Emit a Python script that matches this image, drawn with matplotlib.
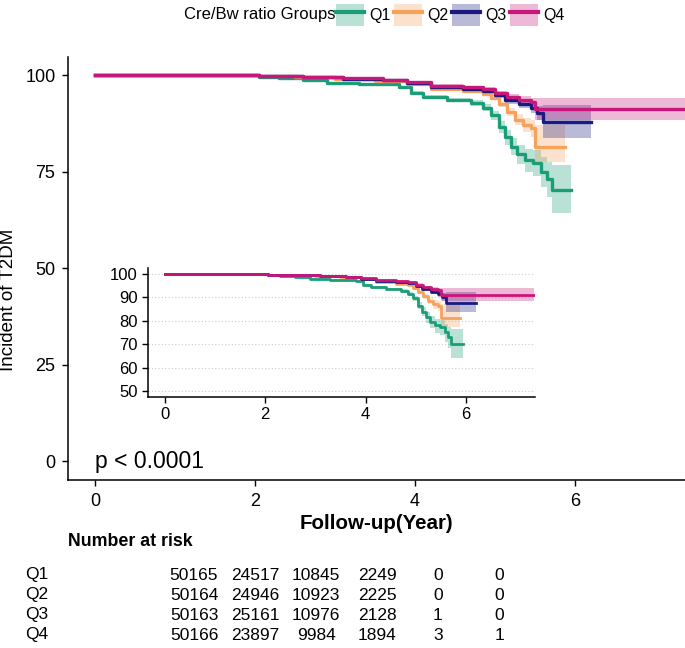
import matplotlib.pyplot as plt
from matplotlib.patches import Patch
from matplotlib.lines import Line2D

plt.rcParams['font.family'] = ['Liberation Sans', 'DejaVu Sans']

# ---------------------------------------------------------
# DATOS
# ---------------------------------------------------------
groups = ["Q1", "Q2", "Q3", "Q4"]
colors = ["#1B9E77", "#F5A25D", "#1A1A80", "#C8177A"]

q1_time = [0, 2.05, 2.3, 2.6, 2.9, 3.3, 3.8, 3.95, 4.1, 4.4, 4.7, 4.85, 4.95, 5.05,
           5.12, 5.2, 5.28, 5.38, 5.48, 5.58, 5.65, 5.71, 5.95]
q1_surv = [100, 99.6, 99.2, 98.8, 98.0, 97.6, 97.0, 95.5, 94.3, 93.6, 92.8, 91.5, 89.6, 86.5,
           83.9, 81.5, 79.6, 78.0, 77.2, 75.0, 73.0, 70.2, 70.2]
q1_low = [100, 99.5, 99.1, 98.7, 97.8, 97.4, 96.7, 95.1, 93.8, 93.0, 92.1, 90.6, 88.4, 85.0,
          82.0, 79.2, 77.0, 75.0, 73.8, 71.0, 68.5, 64.2, 64.2]
q1_up = [100, 99.7, 99.3, 98.9, 98.2, 97.8, 97.3, 95.9, 94.8, 94.2, 93.5, 92.4, 90.8, 88.0,
         85.7, 83.7, 82.0, 80.8, 80.5, 78.8, 77.5, 76.7, 76.7]

q2_time = [0, 2.05, 2.5, 3.0, 3.5, 3.9, 4.2, 4.6, 4.85, 4.95, 5.05, 5.15, 5.25, 5.35, 5.45,
           5.5, 5.88]
q2_surv = [100, 99.7, 99.4, 99.0, 98.6, 97.8, 96.5, 95.8, 95.2, 94.2, 92.5, 90.5, 88.5, 87.0,
           86.2, 81.4, 81.4]
q2_low = [100, 99.6, 99.3, 98.9, 98.4, 97.6, 96.2, 95.4, 94.7, 93.6, 91.7, 89.4, 87.0, 85.2,
          84.0, 77.5, 77.5]
q2_up = [100, 99.8, 99.5, 99.2, 98.8, 98.1, 96.9, 96.3, 95.7, 94.8, 93.3, 91.6, 90.0, 88.8,
         88.4, 87.0, 87.0]

q3_time = [0, 2.05, 2.6, 3.1, 3.6, 3.9, 4.2, 4.6, 4.85, 5.0, 5.12, 5.3, 5.45, 5.52, 5.6, 6.2]
q3_surv = [100, 99.8, 99.5, 99.1, 98.7, 98.0, 97.0, 96.5, 96.0, 94.8, 93.5, 92.5, 91.5, 90.3,
           87.8, 87.8]
q3_low = [100, 99.7, 99.4, 99.0, 98.5, 97.8, 96.7, 96.1, 95.5, 94.1, 92.6, 91.4, 90.1, 88.5,
          83.7, 83.7]
q3_up = [100, 99.9, 99.6, 99.3, 98.9, 98.3, 97.4, 97.0, 96.5, 95.5, 94.4, 93.6, 92.9, 92.1,
         92.2, 92.2]

q4_time = [0, 2.05, 2.6, 3.1, 3.6, 3.9, 4.2, 4.6, 4.85, 5.0, 5.15, 5.3, 5.45, 5.5, 7.37]
q4_surv = [100, 99.8, 99.5, 99.2, 98.8, 98.2, 97.3, 96.9, 96.4, 95.4, 94.3, 93.6, 93.0, 91.2,
           91.2]
q4_low = [100, 99.7, 99.4, 99.0, 98.6, 98.0, 97.0, 96.5, 95.9, 94.8, 93.5, 92.7, 91.9, 88.5,
          88.5]
q4_up = [100, 99.9, 99.6, 99.4, 99.0, 98.5, 97.6, 97.3, 96.9, 96.0, 95.1, 94.5, 94.1, 94.0,
         94.0]

times = [q1_time, q2_time, q3_time, q4_time]
survs = [q1_surv, q2_surv, q3_surv, q4_surv]
lows = [q1_low, q2_low, q3_low, q4_low]
ups = [q1_up, q2_up, q3_up, q4_up]

# Numero en riesgo
risk_q1 = [50165, 24517, 10845, 2249, 0, 0]
risk_q2 = [50164, 24946, 10923, 2225, 0, 0]
risk_q3 = [50163, 25161, 10976, 2128, 1, 0]
risk_q4 = [50166, 23897, 9984, 1894, 3, 1]
risk_rows = [risk_q1, risk_q2, risk_q3, risk_q4]

p_text = "p < 0.0001"

# ---------------------------------------------------------
# FUNCION PARA DIBUJAR CURVAS
# ---------------------------------------------------------
def dibujar_curvas(ax, lw):
    for t, s, lo, hi, c in zip(times, survs, lows, ups, colors):
        ax.fill_between(t, lo, hi, step="post", color=c, alpha=0.3, linewidth=0)
        ax.step(t, s, where="post", color=c, linewidth=lw)
    for sp in ["top", "right"]:
        ax.spines[sp].set_visible(False)
    for sp in ["left", "bottom"]:
        ax.spines[sp].set_linewidth(1.1)
    ax.tick_params(length=4, width=1.0, colors="black")


# ---------------------------------------------------------
# FIGURA
# ---------------------------------------------------------
W, H = 685, 648
fig = plt.figure(figsize=(W / 100, H / 100), dpi=100)

ax = fig.add_axes([68 / W, 1 - 480 / H, (W - 68) / W, (480 - 57) / H])
dibujar_curvas(ax, 2.4)
ax.set_xlim(-0.34, 7.375)
ax.set_ylim(-4.9, 104.7)
ax.set_xticks([0, 2, 4, 6])
ax.set_yticks([0, 25, 50, 75, 100])
ax.tick_params(labelsize=13, pad=5)
ax.set_xlabel("Follow-up(Year)", fontsize=14.8, fontweight="bold", labelpad=3)
ax.set_ylabel("Incident of T2DM", fontsize=13.5)
ax.yaxis.set_label_coords(-51 / (W - 68), (480 - 300) / (480 - 57))
ax.text(0, 0, p_text, fontsize=16.5, ha="left", va="center")

# --- Inset ---
axi = fig.add_axes([148 / W, 1 - 397 / H, (535 - 148) / W, (397 - 268) / H])
for y in [50, 60, 70, 80, 90, 100]:
    axi.axhline(y, color="#cccccc", linestyle=(0, (1, 2)), linewidth=0.8, zorder=0)
dibujar_curvas(axi, 2.0)
axi.set_xlim(-0.34, 7.38)
axi.set_ylim(47.4, 102.6)
axi.set_xticks([0, 2, 4, 6])
axi.set_yticks([50, 60, 70, 80, 90, 100])
axi.tick_params(labelsize=12)

# --- Leyenda ---
handles = [(Patch(facecolor=c, alpha=0.3, edgecolor="none"),
            Line2D([], [], color=c, linewidth=3)) for c in colors]
fig.text(335 / W, 1 - 15 / H, "Cre/Bw ratio Groups", fontsize=12,
         ha="right", va="center")
fig.legend(handles, groups, loc="center left", bbox_to_anchor=(336 / W, 1 - 15 / H),
           ncol=4, frameon=False, fontsize=11.5, borderpad=0, borderaxespad=0,
           handlelength=1.75, handleheight=1.7, handletextpad=0.35,
           columnspacing=0.2)

# --- Tabla de riesgo ---
tab = fig.add_axes([0, 0, 1, 118 / H])
tab.set_xlim(-194 / 61, (W - 194) / 61)
tab.set_ylim(3.65, -2.25)
tab.axis("off")
tab.text((68 - 194) / 61, -1.65, "Number at risk", fontsize=12.8, fontweight="bold",
         ha="left", va="center")
for r, (g, fila) in enumerate(zip(groups, risk_rows)):
    tab.text((25 - 194) / 61, r, g, fontsize=12.5, ha="left", va="center")
    for i, v in enumerate(fila):
        tab.text(i, r, str(v), fontsize=12.5, ha="center", va="center")

plt.savefig("out.png", dpi=100)
